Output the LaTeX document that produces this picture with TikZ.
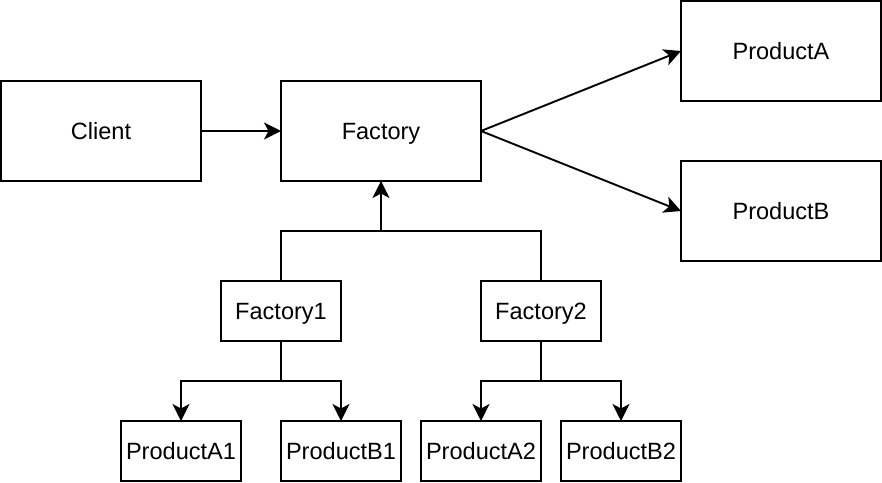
\documentclass[tikz,border=0pt]{standalone}
\usepackage{fontspec}
\setmainfont{Liberation Sans}
\usetikzlibrary{positioning, arrows.meta}

\begin{document}
\begin{tikzpicture}[
    node distance=1.6cm,
    every node/.style={font=\fontsize{13.4}{16}\selectfont},
    box/.style={
        draw,
        line width=1.1pt,
        outer sep=0pt,
        inner sep=0pt,
        minimum width=4cm,
        minimum height=2cm,
        text height=0.34cm,
        text depth=0cm,
        align=center
    },
    smallbox/.style={
        box,
        minimum width=2.4cm,
        minimum height=1.2cm
    },
    arrow/.style={-{Stealth[length=0.34cm, width=0.34cm, inset=0.09cm]}, line width=1.1pt},
    link/.style={line width=1.1pt}
]
\useasboundingbox (0,0) rectangle (17.64,-9.64);

\node[box] (client) at (2.02,-2.62) {Client};
\node[box, right=1.6cm of client] (factory) {Factory};
\node[box, right=4cm of factory, yshift=1.6cm] (proda) {ProductA};
\node[box, below=1.2cm of proda] (prodb) {ProductB};

\node[smallbox, below=2cm of factory, xshift=-2cm] (fac1) {Factory1};
\node[smallbox, below=2cm of factory, xshift=3.2cm] (fac2) {Factory2};

\node[smallbox, below=of fac1, xshift=-2cm] (proda1) {ProductA1};
\node[smallbox, below=of fac1, xshift=1.2cm] (prodb1) {ProductB1};
\node[smallbox, below=of fac2, xshift=-1.2cm] (proda2) {ProductA2};
\node[smallbox, below=of fac2, xshift=1.6cm] (prodb2) {ProductB2};

\draw[arrow] (client) -- (factory);
\draw[arrow] (factory.east) -- (proda.west);
\draw[arrow] (factory.east) -- (prodb.west);

% factories up to the common one
\draw[arrow] (fac1.north) -- ++(0,1cm) -| (factory.south);
\draw[link] (fac2.north) -- ++(0,1cm) -| (factory.south);

% products of each factory
\draw[arrow] (fac1.south) -- ++(0,-0.8cm) -| (proda1.north);
\draw[arrow] (fac1.south) -- ++(0,-0.8cm) -| (prodb1.north);
\draw[arrow] (fac2.south) -- ++(0,-0.8cm) -| (proda2.north);
\draw[arrow] (fac2.south) -- ++(0,-0.8cm) -| (prodb2.north);

\end{tikzpicture}
\end{document}
